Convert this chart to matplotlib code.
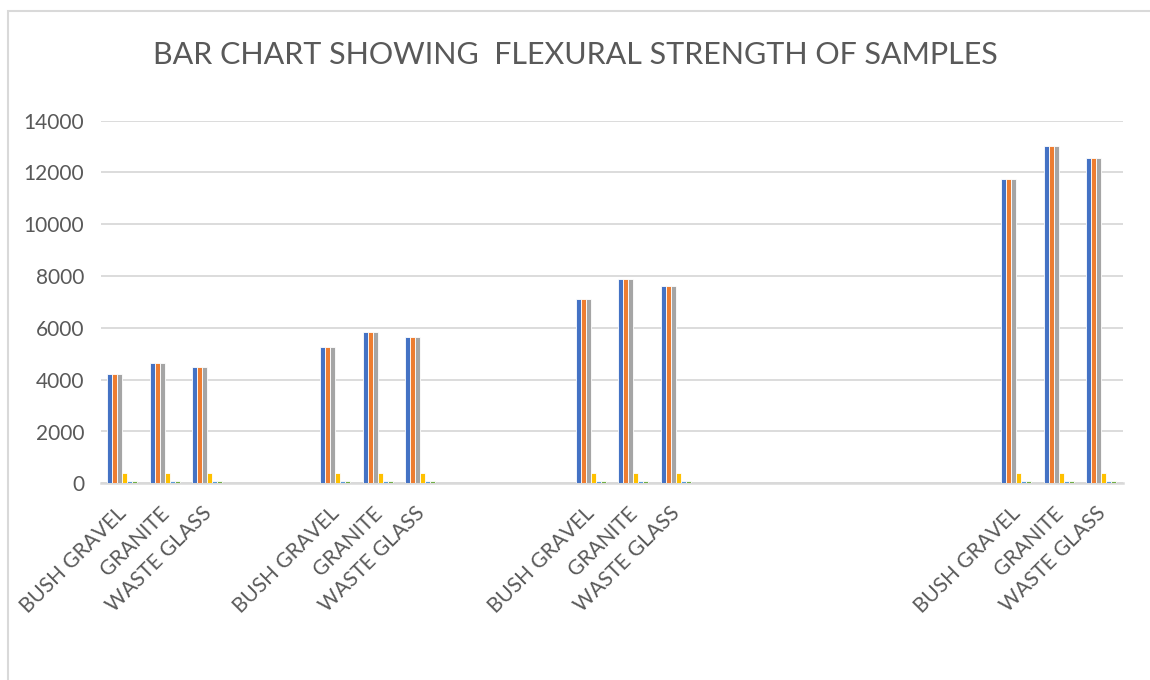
import numpy as np
import matplotlib
matplotlib.use("Agg")
import matplotlib.pyplot as plt
from matplotlib.patches import Rectangle
from matplotlib.transforms import ScaledTranslation

nan = np.nan

# category axis, blank rows in the sheet leave empty slots
categories = ["BUSH GRAVEL", "GRANITE", "WASTE GLASS", "", "",
              "BUSH GRAVEL", "GRANITE", "WASTE GLASS", "", "", "",
              "BUSH GRAVEL", "GRANITE", "WASTE GLASS", "", "", "", "", "", "", "",
              "BUSH GRAVEL", "GRANITE", "WASTE GLASS"]

series1 = [4220, 4650, 4500, nan, nan,
           5270, 5850, 5650, nan, nan, nan,
           7115, 7885, 7615, nan, nan, nan, nan, nan, nan, nan,
           11740, 13030, 12560]
series2 = [4220, 4650, 4500, nan, nan,
           5270, 5850, 5650, nan, nan, nan,
           7115, 7885, 7615, nan, nan, nan, nan, nan, nan, nan,
           11740, 13030, 12560]
series3 = [4220, 4650, 4500, nan, nan,
           5270, 5850, 5650, nan, nan, nan,
           7115, 7885, 7615, nan, nan, nan, nan, nan, nan, nan,
           11740, 13030, 12560]
series4 = [390, 390, 390, nan, nan,
           390, 390, 390, nan, nan, nan,
           390, 390, 390, nan, nan, nan, nan, nan, nan, nan,
           390, 390, 390]
series5 = [90, 90, 90, nan, nan,
           90, 90, 90, nan, nan, nan,
           90, 90, 90, nan, nan, nan, nan, nan, nan, nan,
           90, 90, 90]
series6 = [90, 90, 90, nan, nan,
           90, 90, 90, nan, nan, nan,
           90, 90, 90, nan, nan, nan, nan, nan, nan, nan,
           90, 90, 90]

colors = ["#4472C4", "#ED7D31", "#A5A5A5", "#FFC000", "#5B9BD5", "#70AD47"]
txt = "#595959"
grid = "#D9D9D9"

plt.rcParams['font.family'] = ['Lato', 'DejaVu Sans']

fig = plt.figure(figsize=(11.5, 6.8), dpi=100)
ax = fig.add_axes([101/1150, 1 - 483.3/680, (1122.7 - 101)/1150, (483.3 - 120.7)/680])

x = np.arange(len(categories))
all_series = [series1, series2, series3, series4, series5, series6]
w = 0.1175
for i, s in enumerate(all_series):
    off = (i - 2.5) * w
    ax.bar(x + off, s, width=w, color=colors[i], edgecolor="white", linewidth=0.6, zorder=3)

ax.set_xlim(-0.5, len(categories) - 0.5)
ax.set_ylim(0, 14000)
ax.set_yticks(np.arange(0, 14001, 2000))
ax.yaxis.grid(True, color=grid, linewidth=1.3, zorder=0)
ax.set_axisbelow(True)

for sp in ["top", "right", "left"]:
    ax.spines[sp].set_visible(False)
ax.spines["bottom"].set_color(grid)
ax.spines["bottom"].set_linewidth(1.8)

ax.tick_params(axis="y", length=0, colors=txt, labelsize=15, pad=12)
ax.tick_params(axis="x", length=0, colors=txt, labelsize=15, pad=14)
ax.set_xticks(x)
ax.set_xticklabels(categories, rotation=45, ha="right", va="top",
                   rotation_mode="anchor")
shift = ScaledTranslation(-6/100, 0, fig.dpi_scale_trans)
for lbl in ax.get_xticklabels():
    lbl.set_transform(lbl.get_transform() + shift)

fig.text(0.5, 1 - 55/680, "BAR CHART SHOWING  FLEXURAL STRENGTH OF SAMPLES",
         ha="center", va="center", fontsize=22, color=txt)

# chart area border
fig.patches.append(Rectangle((8/1150, -0.1), 1.2, 1 - 11/680 + 0.1,
                             transform=fig.transFigure, fill=False,
                             edgecolor=grid, linewidth=1.5))

fig.savefig("out.png", dpi=100, facecolor="white")
